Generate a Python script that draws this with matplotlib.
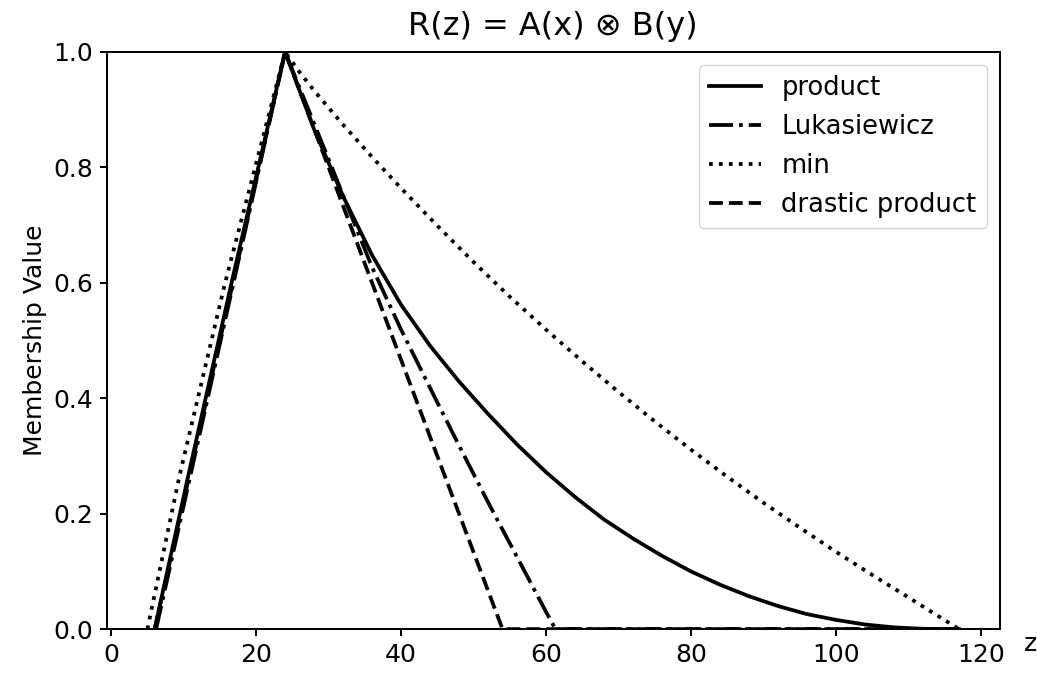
import matplotlib
matplotlib.use("Agg")
import matplotlib.pyplot as plt

# valores
prod_z = [6, 10.5, 16.7, 24, 28, 32, 36, 40, 44, 48, 52, 56, 60, 64, 68, 72, 76, 80, 84, 88, 92, 96, 100, 104, 108, 112, 116, 117]
prod_y = [0, 0.258, 0.605, 1, 0.866, 0.750, 0.648, 0.562, 0.491, 0.429, 0.373, 0.320, 0.272, 0.229, 0.190, 0.157, 0.127, 0.100, 0.077, 0.057, 0.040, 0.026, 0.016, 0.008, 0.003, 0.0005, 0, 0]

luka_z = [6.2, 24, 30, 36, 40, 44, 48, 52, 56, 60, 61.3, 117]
luka_y = [0, 1, 0.814, 0.627, 0.519, 0.418, 0.318, 0.220, 0.125, 0.030, 0, 0]

min_z = [5, 9.4, 15.7, 24, 26, 28, 32, 36, 40, 45, 50, 55, 60, 65, 70, 75, 80, 85, 90, 95, 100, 105, 110, 117]
min_y = [0, 0.264, 0.599, 1, 0.965, 0.933, 0.874, 0.818, 0.764, 0.699, 0.636, 0.576, 0.519, 0.464, 0.411, 0.360, 0.311, 0.264, 0.219, 0.176, 0.134, 0.094, 0.055, 0]

drastic_z = [6, 24, 54, 117]
drastic_y = [0, 1, 0, 0]

s = 1.8
plt.rcParams['font.size'] = 18

fig = plt.figure(figsize=(10.37, 6.75), dpi=100)
ax = fig.add_axes([0.103, 0.068, 0.861, 0.855])

lw = 1.5 * s
ax.plot(prod_z, prod_y, 'k-', lw=lw, label='product')
ax.plot(luka_z, luka_y, 'k-.', lw=lw, label='Lukasiewicz')
ax.plot(min_z, min_y, 'k:', lw=lw, label='min')
ax.plot(drastic_z, drastic_y, 'k--', lw=lw, label='drastic product')

ax.set_ylim(0, 1)
ax.set_xticks([0, 20, 40, 60, 80, 100, 120])
ax.set_title('R(z) = A(x) ⊗ B(y)', fontsize=23, pad=12)
ax.set_ylabel('Membership Value')
ax.set_xlabel('z')
ax.xaxis.set_label_coords(1.034, -0.005)
ax.tick_params(width=0.8 * s, length=5, pad=5)
for sp in ax.spines.values():
    sp.set_linewidth(0.8 * s)
ax.legend(loc='upper right', fontsize=18.5)

fig.savefig('out.png', dpi=100)
